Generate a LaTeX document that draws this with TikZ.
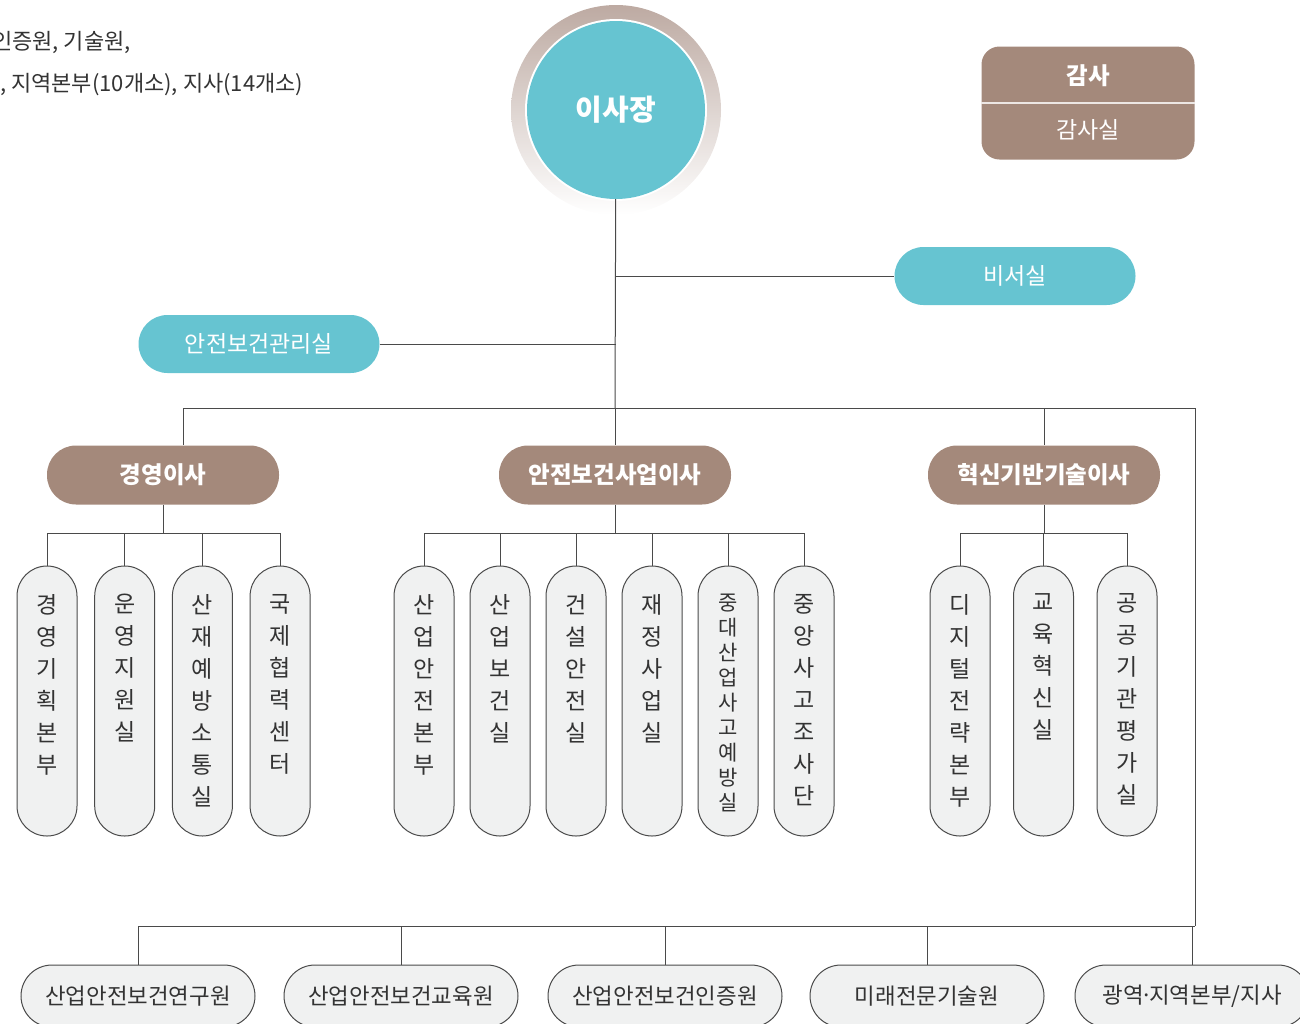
\documentclass[tikz,border=0pt]{standalone}
\usepackage{fontspec}
\setmainfont{Noto Sans CJK KR}
\usetikzlibrary{positioning}
\definecolor{tealc}{HTML}{66C4D1}
\definecolor{brownc}{HTML}{A4897B}
\definecolor{ringc}{HTML}{BDAAA2}
\definecolor{boxc}{HTML}{F0F1F1}
\definecolor{linec}{HTML}{4A4A4A}
\definecolor{textc}{HTML}{333333}
\newcommand{\vlab}[1]{\parbox[c][214pt][t]{50pt}{\centering #1}}

\begin{document}
\begin{tikzpicture}[x=1pt, y=-1pt, node distance=76pt]
\tikzstyle{tealpill} = [rectangle, rounded corners=29pt, minimum width=241pt, minimum height=58pt, fill=tealc, text=white, font=\fontsize{23}{23}\selectfont]
\tikzstyle{dirpill} = [rectangle, rounded corners=29pt, minimum width=232pt, minimum height=59pt, fill=brownc, text=white, font=\bfseries\fontsize{23.5}{23.5}\selectfont]
\tikzstyle{vbox} = [rectangle, rounded corners=30pt, minimum width=60pt, minimum height=270pt, inner sep=0pt, fill=boxc, draw=linec, line width=1pt, text=textc, font=\fontsize{23}{32}\selectfont]
\tikzstyle{hbox} = [rectangle, rounded corners=31pt, minimum width=234pt, minimum height=62pt, fill=boxc, draw=linec, line width=1pt, text=textc, font=\fontsize{22.4}{22.4}\selectfont]
\tikzstyle{line} = [draw=linec, line width=1pt]
\useasboundingbox (0,0) rectangle (1300,1023);
\clip (0,0) rectangle (1300,1023);

 % notes
\node (note1) [anchor=west, inner sep=0pt, text=textc, font=\fontsize{22}{22}\selectfont] at (-8,42) {인증원, 기술원,};
\node (note2) [anchor=west, inner sep=0pt, text=textc, font=\fontsize{22}{22}\selectfont] at (0,85) {, 지역본부(10개소), 지사(14개소)};

 % top
\coordinate (ceoc) at (616,110);
\shade [top color=ringc, middle color=ringc!40, bottom color=white] (ceoc) circle (105pt);
\fill [white] (ceoc) circle (91pt);
\node (ceo) [circle, fill=tealc, minimum size=178pt, text=white, font=\bfseries\fontsize{29}{29}\selectfont] at (ceoc) {이사장};

\node (audit) [rectangle, rounded corners=18pt, fill=brownc, minimum width=213pt, minimum height=113pt] at (1088,103) {};
\draw [white!80!brownc, line width=1.2pt] (audit.west) -- (audit.east);
\node (auditT) [text=white, font=\bfseries\fontsize{23.5}{23.5}\selectfont] at (1088,76) {감사};
\node (auditS) [text=white, font=\fontsize{23}{23}\selectfont] at (1088,130) {감사실};

\node (sec) [tealpill] at (1015,276) {비서실};
\node (mgr) [tealpill] at (259,344) {안전보건관리실};

 % directors
\node (d1) [dirpill] at (163,475) {경영이사};
\node (d2) [dirpill] at (615,475) {안전보건사업이사};
\node (d3) [dirpill] at (1044,475) {혁신기반기술이사};

 % departments
\node (g1) [vbox] at (47,701) {\vlab{경\\영\\기\\획\\본\\부}};
\node (g2) [vbox, right of=g1, xshift=1.7pt] {\vlab{운\\영\\지\\원\\실}};
\node (g3) [vbox, right of=g2, xshift=1.7pt] {\vlab{산\\재\\예\\방\\소\\통\\실}};
\node (g4) [vbox, right of=g3, xshift=1.7pt] {\vlab{국\\제\\협\\력\\센\\터}};

\node (h1) [vbox] at (424,701) {\vlab{산\\업\\안\\전\\본\\부}};
\node (h2) [vbox, right of=h1] {\vlab{산\\업\\보\\건\\실}};
\node (h3) [vbox, right of=h2] {\vlab{건\\설\\안\\전\\실}};
\node (h4) [vbox, right of=h3] {\vlab{재\\정\\사\\업\\실}};
\node (h5) [vbox, right of=h4, font=\fontsize{21}{25}\selectfont] {\vlab{중\\대\\산\\업\\사\\고\\예\\방\\실}};
\node (h6) [vbox, right of=h5] {\vlab{중\\앙\\사\\고\\조\\사\\단}};

\node (k1) [vbox] at (960,701) {\vlab{디\\지\\털\\전\\략\\본\\부}};
\node (k2) [vbox, right of=k1, xshift=7.5pt] {\vlab{교\\육\\혁\\신\\실}};
\node (k3) [vbox, right of=k2, xshift=7.5pt] {\vlab{공\\공\\기\\관\\평\\가\\실}};

 % bottom row
\node (b1) [hbox] at (138,996) {산업안전보건연구원};
\node (b2) [hbox] at (401,996) {산업안전보건교육원};
\node (b3) [hbox] at (665,996) {산업안전보건인증원};
\node (b4) [hbox] at (927,996) {미래전문기술원};
\node (b5) [hbox] at (1192,996) {광역\kern-3.5pt·\kern-3.5pt지역본부/지사};

 % connectors
\coordinate (top) at (615,408);
\coordinate (t1) at (183,408);
\coordinate (busR) at (1195,408);
\coordinate (botR) at (1195,926);
\coordinate (j1) at (163,533);
\coordinate (j2) at (615,533);
\coordinate (j3) at (1044,533);

\draw [line] (ceo) -- (top);
\draw [line] (ceo |- sec) -- (sec);
\draw [line] (mgr) -- (ceo |- mgr);
\draw [line] (t1) -- (busR) -- (botR);
\draw [line] (t1) -- (t1 |- d1.north);
\draw [line] (top) -- (d2);
\draw [line] (d3 |- top) -- (d3);

\draw [line] (d1) -- (j1);
\draw [line] (d2) -- (j2);
\draw [line] (d3) -- (j3);
\draw [line] (g1) |- (j1) -| (g4);
\foreach \n in {g2,g3} \draw [line] (\n) -- (\n |- j1);
\draw [line] (h1) |- (j2) -| (h6);
\foreach \n in {h2,h3,h4,h5} \draw [line] (\n) -- (\n |- j2);
\draw [line] (k1) |- (j3) -| (k3);
\draw [line] (k2) -- (k2 |- j3);

\draw [line] (b1 |- botR) -- (botR);
\foreach \n in {b1,b2,b3,b4,b5} \draw [line] (\n |- botR) -- (\n);
\end{tikzpicture}
\end{document}
